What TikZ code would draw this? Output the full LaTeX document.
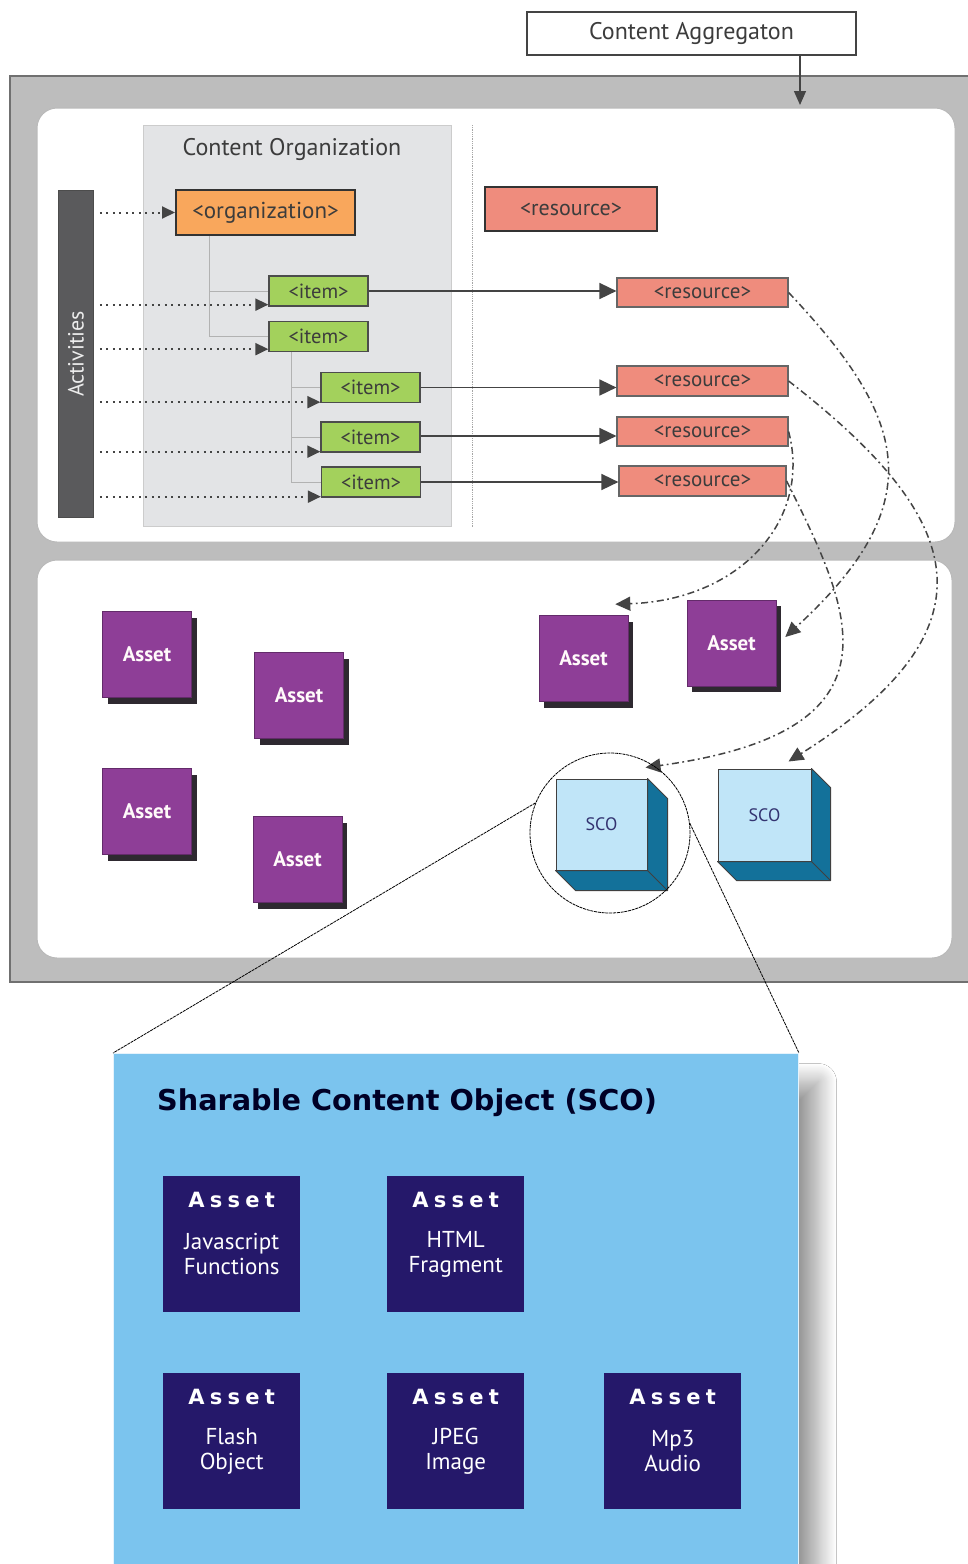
\documentclass[tikz,border=0pt]{standalone}
\usepackage{fontspec}
\setmainfont{PT Sans}
\newfontfamily\vfont{DejaVu Sans}
\newfontfamily\vsp[LetterSpace=25]{DejaVu Sans}
\usetikzlibrary{arrows.meta,calc,shadows,shadows.blur}
\definecolor{frameg}{HTML}{BDBDBD}
\definecolor{framed}{HTML}{707070}
\definecolor{orgbg}{HTML}{E3E4E6}
\definecolor{actg}{HTML}{5A5A5C}
\definecolor{orgor}{HTML}{F9A75C}
\definecolor{itemg}{HTML}{A3D15C}
\definecolor{resr}{HTML}{EF8C7D}
\definecolor{purp}{HTML}{8E3E97}
\definecolor{purpsh}{HTML}{2E2930}
\definecolor{scof}{HTML}{C0E5F8}
\definecolor{scos}{HTML}{13719A}
\definecolor{bigb}{HTML}{7BC4EE}
\definecolor{navyb}{HTML}{25186A}
\definecolor{txtg}{HTML}{3C3C3C}
\definecolor{lined}{HTML}{444444}
\tikzset{
  caggbox/.style={draw=lined, line width=1.2pt, fill=white, minimum width=329pt, minimum height=43pt, inner sep=0pt, text=txtg, font=\fontsize{24}{24}\selectfont},
  panel/.style={fill=white, draw=gray!55, line width=1pt, rounded corners=20pt},
  orgst/.style={draw=black!80, line width=2pt, fill=orgor, minimum width=179pt, minimum height=45pt, inner sep=0pt, text=txtg, font=\fontsize{23}{23}\selectfont},
  itemst/.style={draw=black!70, line width=1.3pt, fill=itemg, minimum width=99pt, minimum height=30pt, inner sep=0pt, text=txtg, font=\fontsize{20.5}{20}\selectfont},
  resbig/.style={draw=black!80, line width=2pt, fill=resr, minimum width=172pt, minimum height=44pt, inner sep=0pt, text=txtg, font=\fontsize{22}{22}\selectfont},
  ressm/.style={draw=black!60, line width=1.2pt, fill=resr, minimum width=171pt, minimum height=29pt, inner sep=0pt, text=txtg, font=\fontsize{21}{21}\selectfont},
  treeln/.style={draw=gray!60, line width=1pt},
  dotarr/.style={draw=lined, line width=2pt, dash pattern=on 2pt off 4.5pt, shorten <=6pt, -{Triangle[length=13pt,width=12pt]}},
  solarr/.style={draw=lined, line width=1.7pt, -{Triangle[length=17pt,width=16pt]}},
  dcurve/.style={draw=lined, line width=1.5pt, dash pattern=on 7pt off 3.5pt on 1.8pt off 3.5pt, -{Triangle[length=15pt,width=14pt]}},
  passet/.style={fill=purp, draw=purp!70!black, line width=0.6pt, minimum width=89pt, minimum height=86pt, inner sep=0pt, text=white!92!pink, font=\fontsize{21}{21}\selectfont\bfseries, drop shadow={shadow xshift=5pt, shadow yshift=-6pt, fill=purpsh, opacity=1}},
  scofront/.style={fill=scof, draw=black!75, line width=1pt, minimum width=91pt, minimum height=91pt, inner sep=0pt, text=black!60!blue!60!gray, font=\fontsize{18}{18}\selectfont},
  scoside/.style={fill=scos, draw=black!75, line width=1pt, line join=round},
  zoomln/.style={draw=black, line width=0.8pt, dash pattern=on 3pt off 0.8pt},
  nasset/.style={fill=navyb, minimum width=137pt, minimum height=136pt, anchor=north west, inner sep=0pt},
  natitle/.style={text=white, font=\fontsize{21}{21}\vsp\bfseries},
  nasub/.style={text=white, align=center, font=\fontsize{23}{25}\selectfont}
}
\begin{document}
\begin{tikzpicture}[x=1pt,y=-1pt]
\useasboundingbox (0,0) rectangle (968,1564);
\fill[white] (0,0) rectangle (968,1564);

% outer frame and panels
\draw[fill=frameg, draw=framed, line width=1.2pt] (10,76) rectangle (995,982);
\draw[panel] (37,108) rectangle (955,542);
\draw[panel] (37,560) rectangle (952,958);

% content aggregation
\node[caggbox] (cagg) at (691.5,33.5) {Content Aggregaton};
\coordinate (aggtip) at (800,105);
\draw[draw=lined, line width=1.3pt, -{Triangle[length=14pt,width=12pt]}] (cagg.south -| aggtip) -- (aggtip);

% content organization
\node[draw=gray!40, line width=1pt, fill=orgbg, minimum width=308pt, minimum height=401pt, anchor=north west, inner sep=0pt] (cobox) at (143,125) {};
\node[text=txtg, font=\fontsize{24}{24}\selectfont] (cotitle) at (292,149) {Content Organization};
\draw[draw=gray!70, line width=0.8pt, densely dotted] (472,125) -- (472,527);

% activities
\node[fill=actg, draw=black!70, line width=0.8pt, minimum width=35pt, minimum height=327pt, anchor=north west, inner sep=0pt] (act) at (58,190) {};
\node[rotate=90, text=white!85!gray, font=\fontsize{22}{22}\selectfont] (acttxt) at (act.center) {Activities};

% organization tree
\node[orgst] (org) at (265.5,212.5) {<organization>};
\node[itemst] (item1) at (318.5,291) {<item>};
\node[itemst] (item2) at (318.5,336.5) {<item>};
\node[itemst] (item3) at (370.5,387.5) {<item>};
\node[itemst] (item4) at (370.5,437) {<item>};
\node[itemst] (item5) at (371,482) {<item>};

\coordinate (t1) at ($(org.south west)+(34,0)$);
\draw[treeln] (t1) |- (item2.west);
\draw[treeln] (t1 |- item1.west) -- (item1.west);
\coordinate (t2) at ($(item2.south west)+(23,0)$);
\draw[treeln] (t2) |- (item5.west);
\draw[treeln] (t2 |- item3.west) -- (item3.west);
\draw[treeln] (t2 |- item4.west) -- (item4.west);

% resources
\node[resbig] (restop) at (571,209) {<resource>};
\node[ressm] (res1) at (702.5,292.5) {<resource>};
\node[ressm, minimum height=30pt] (res2) at (702.5,381) {<resource>};
\node[ressm] (res3) at (702.5,431.5) {<resource>};
\node[ressm, minimum width=167pt, minimum height=30pt] (res4) at (702.5,481) {<resource>};

% activity arrows
\draw[dotarr] (act.east |- org.west) -- (org.west);
\coordinate (d1) at ($(item1.south west)+(0,-2)$);
\coordinate (d2) at ($(item2.south west)+(0,-3)$);
\coordinate (d3) at ($(item3.south west)+(0,-1)$);
\coordinate (d4) at ($(item4.south west)+(0,-1)$);
\coordinate (d5) at ($(item5.south west)+(0,-1)$);
\draw[dotarr] (act.east |- d1) -- (d1);
\draw[dotarr] (act.east |- d2) -- (d2);
\draw[dotarr] (act.east |- d3) -- (d3);
\draw[dotarr] (act.east |- d4) -- (d4);
\draw[dotarr] (act.east |- d5) -- (d5);

% item -> resource
\draw[solarr] (item1.east) -- (item1.east -| res1.west);
\draw[solarr] (item3.east) -- (item3.east -| res2.west);
\draw[solarr] ($(item4.east)+(0,-1)$) -- ($(item4.east -| res3.west)+(0,-1)$);
\draw[solarr] (item5.east) -- (item5.east -| res4.west);

% assets
\node[passet] (a1) at (147,654.5) {Asset};
\node[passet] (a2) at (299,695.5) {Asset};
\node[passet] (a3) at (147,811.5) {Asset};
\node[passet] (a4) at (297.5,859.5) {Asset};
\node[passet] (a5) at (583.5,658.5) {Asset};
\node[passet] (a6) at (731.5,643) {Asset};

% SCO cubes
\node[scofront] (s1) at (601.5,824.5) {SCO};
\draw[scoside] (s1.north east) -- ($(s1.north east)+(20,20)$) -- ($(s1.south east)+(20,20)$) -- ($(s1.south west)+(20,20)$) -- (s1.south west) -- (s1.south east) -- cycle;
\draw[draw=black!75, line width=0.8pt] (s1.south east) -- ($(s1.south east)+(20,20)$);
\node[scofront, minimum width=93pt, minimum height=92pt] (s2) at (764.5,815) {SCO};
\draw[scoside] (s2.north east) -- ($(s2.north east)+(19,19)$) -- ($(s2.south east)+(19,19)$) -- ($(s2.south west)+(19,19)$) -- (s2.south west) -- (s2.south east) -- cycle;
\draw[draw=black!75, line width=0.8pt] (s2.south east) -- ($(s2.south east)+(19,19)$);

% resource -> asset/SCO curves
\coordinate (a6tip) at ($(a6.east)+(9,-6)$);
\coordinate (s2tip) at ($(s2.north)+(24,-7)$);
\coordinate (a5tip) at ($(a5.north east)+(-13,-11)$);
\coordinate (s1tip) at ($(s1.north east)+(-2,-11)$);
\draw[dcurve] (res1.east) .. controls (906,417) and (934,501) .. (a6tip);
\draw[dcurve] (res2.east) .. controls (960,514) and (1007,624) .. (s2tip);
\draw[dcurve] (res3.east) .. controls (812,520) and (740,600) .. (a5tip);
\draw[dcurve] (res4.east) .. controls (851,610) and (911,731) .. (s1tip);

% zoom circle
\node[circle, zoomln, minimum size=160pt, inner sep=0pt] (zc) at (610,833) {};

% big SCO box
\node[fill=bigb, draw=white!80!bigb, line width=1pt, minimum width=685pt, minimum height=560pt, anchor=north west, inner sep=0pt, blur shadow={shadow xshift=20pt, shadow yshift=-28pt, shadow blur radius=18pt, shadow blur steps=24, shadow opacity=40}] (big) at (113,1053) {};
\draw[zoomln] (zc.158) -- (big.north west);
\draw[zoomln] (zc.7) -- (big.north east);

\node[anchor=base west, text=black!85!blue, font=\fontsize{28.7}{28.7}\vfont\bfseries, inner sep=0pt] (bigtitle) at (157,1110) {Sharable Content Object (SCO)};

\node[nasset] (b1) at (163,1176) {};
\node[nasset] (b2) at (387,1176) {};
\node[nasset] (b3) at (163,1373) {};
\node[nasset] (b4) at (387,1373) {};
\node[nasset] (b5) at (604,1373) {};
\node[natitle] (b1t) at ($(b1.north)+(0,24)$) {Asset};
\node[natitle] (b2t) at ($(b2.north)+(0,24)$) {Asset};
\node[natitle] (b3t) at ($(b3.north)+(0,24)$) {Asset};
\node[natitle] (b4t) at ($(b4.north)+(0,24)$) {Asset};
\node[natitle] (b5t) at ($(b5.north)+(0,24)$) {Asset};
\node[nasub] (b1s) at ($(b1.north)+(0,78)$) {Javascript\\Functions};
\node[nasub] (b2s) at ($(b2.north)+(0,78)$) {HTML\\Fragment};
\node[nasub] (b3s) at ($(b3.north)+(0,78)$) {Flash\\Object};
\node[nasub] (b4s) at ($(b4.north)+(0,78)$) {JPEG\\Image};
\node[nasub] (b5s) at ($(b5.north)+(0,78)$) {Mp3\\Audio};
\end{tikzpicture}
\end{document}
